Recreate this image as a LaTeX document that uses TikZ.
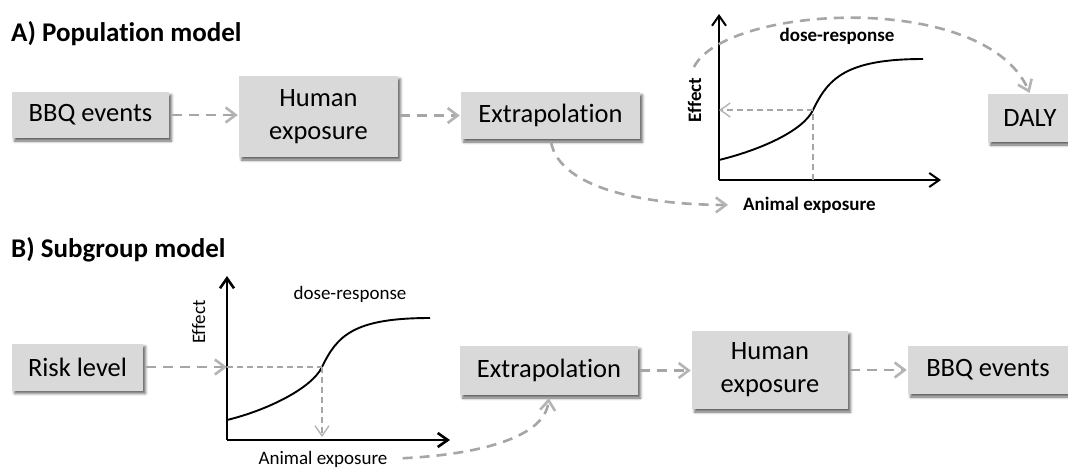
\documentclass[tikz,border=0pt]{standalone}
\usepackage{fontspec}
\setmainfont{Carlito}[RawFeature={-liga}]
\usetikzlibrary{arrows.meta,shadows.blur}

\definecolor{boxgray}{HTML}{D9D9D9}
\definecolor{flowgray}{HTML}{A6A6A6}
\definecolor{tipgray}{HTML}{B4B4B4}

\tikzset{
  box/.style={fill=boxgray, inner sep=0pt, align=center,
    font=\fontsize{26.5}{33}\selectfont,
    blur shadow={shadow xshift=2.5pt, shadow yshift=-3pt,
      shadow blur radius=2.5pt, shadow opacity=60}},
  heading/.style={font=\fontsize{27}{32}\selectfont\bfseries, inner sep=0pt, anchor=base west},
  lblbold/.style={font=\fontsize{19}{22}\selectfont\bfseries, inner sep=0pt},
  lblplain/.style={font=\fontsize{19}{22}\selectfont, inner sep=0pt},
  flow/.style={draw=flowgray, line width=2.6pt, dash pattern=on 10pt off 7pt,
    -{Straight Barb[length=10pt, width=15pt, line width=2.6pt, color=tipgray]}},
  guide/.style={draw=flowgray, line width=1.4pt, dash pattern=on 6pt off 4pt},
  guidetip/.style={-{Straight Barb[length=10pt, width=14pt, line width=1.4pt, color=tipgray]}},
  axis/.style={draw=black, line width=#1,
    -{Straight Barb[length=10pt, width=14pt, line width=#1]}},
  respcurve/.style={draw=black, line width=1.9pt},
}

\begin{document}
\begin{tikzpicture}[x=1pt, y=-1pt]
\path[use as bounding box] (0,0) rectangle (1068,467);
\clip (0,0) rectangle (1068,467);

% ---------------- A) Population model ----------------
\node[heading] (titleA) at (11,41) {A) Population model};

\node[box, minimum width=157pt, minimum height=46pt] (bbqA) at (90.5,115) {BBQ events};
\node[box, minimum width=159pt, minimum height=81pt] (humA) at (318.5,116.5) {Human\\exposure};
\node[box, minimum width=179pt, minimum height=47pt] (exA) at (550.5,115.5) {Extrapolation};
\node[box, minimum width=84pt, minimum height=48pt] (daly) at (1030,118) {DALY};

% dose-response graph
\begin{scope}[shift={(719,180)}]
  \coordinate (oA) at (0,0);
  \coordinate (ipA) at (94,-70);
  \coordinate (ipAx) at (94,0);
  \coordinate (ipAy) at (0,-70);
  \draw[axis=2pt] (oA) -- (0,-166);
  \draw[axis=2pt] (oA) -- (222,0);
  \draw[respcurve] (0,-20) .. controls (41,-30) and (84,-49) .. (ipA)
                   .. controls (109,-101) and (126,-121) .. (204,-121);
\end{scope}
\draw[guide] (ipAx) -- (ipA);
\draw[guide, guidetip] (ipA) -- (ipAy);

\node[lblbold, anchor=base] (drA) at (837,41) {dose-response};
\node[lblbold, rotate=90, anchor=base] (effA) at (701,100) {Effect};
\node[lblbold, anchor=base west] (animA) at (743,210) {Animal exposure};
\coordinate (arcA) at (694,67);

\draw[flow, shorten <=3pt, shorten >=1pt] (bbqA.east) -- (bbqA.east -| humA.west);
\draw[flow, shorten <=2pt, shorten >=1pt] (humA.east |- exA.west) -- (exA.west);
\draw[flow, shorten <=3pt, shorten >=15pt] (exA.south) .. controls (560,190) and (650,205) .. (animA.west);
\draw[flow, shorten >=1pt] (arcA) .. controls (725,5) and (985,-10) .. (daly.north);

% ---------------- B) Subgroup model ----------------
\node[heading] (titleB) at (11,257) {B) Subgroup model};

\node[box, minimum width=131pt, minimum height=47pt] (risk) at (77.5,367) {Risk level};
\node[box, minimum width=178pt, minimum height=49pt] (exB) at (549,370.5) {Extrapolation};
\node[box, minimum width=156pt, minimum height=78pt] (humB) at (770,370) {Human\\exposure};
\node[box, minimum width=160pt, minimum height=48pt] (bbqB) at (988,370) {BBQ events};

% dose-response graph
\begin{scope}[shift={(227,440)}]
  \coordinate (oB) at (0,0);
  \coordinate (ipB) at (95,-73);
  \coordinate (ipBx) at (95,0);
  \coordinate (ipBy) at (0,-73);
  \draw[axis=2.6pt] (oB) -- (0,-164);
  \draw[axis=2.6pt] (oB) -- (223,0);
  \draw[respcurve] (0,-20) .. controls (41,-30) and (85,-52) .. (ipB)
                   .. controls (110,-104) and (126,-122) .. (203,-122);
\end{scope}
\draw[guide] (ipBy) -- (ipB);
\draw[guide, guidetip, shorten >=3pt] (ipB) -- (ipBx);

\node[lblplain, anchor=base] (drB) at (350,299) {dose-response};
\node[lblplain, rotate=90, anchor=base] (effB) at (205,322) {Effect};
\node[lblplain, anchor=base] (animB) at (323,464) {Animal exposure};

\draw[flow, shorten <=3pt] (risk.east) -- (ipBy);
\draw[flow, shorten <=15pt, shorten >=3pt] (animB.east) .. controls (470,455) and (545,440) .. (exB.south);
\draw[flow, shorten <=2pt, shorten >=1pt] (exB.east) -- (exB.east -| humB.west);
\draw[flow, shorten <=2pt, shorten >=1pt] (humB.east |- bbqB.west) -- (bbqB.west);
\end{tikzpicture}
\end{document}
